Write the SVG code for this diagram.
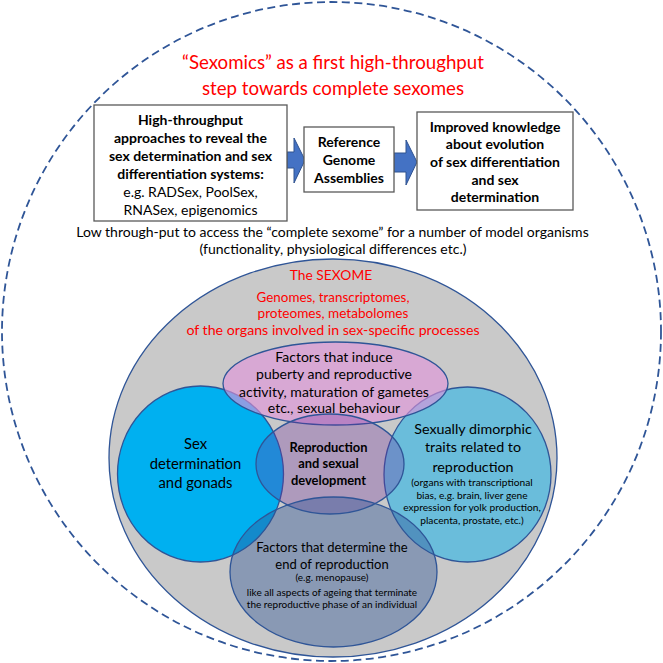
<svg xmlns="http://www.w3.org/2000/svg" width="663" height="663" viewBox="0 0 663 663">
<style>
text{font-family:Lato,"Open Sans","Liberation Sans",sans-serif;text-anchor:middle;fill:#000}
.red{fill:#FF0000}
.b{font-weight:bold}
.box{fill:#fff;stroke:#595959;stroke-width:1.3}
.arr{fill:#4472C4;stroke:#2F528F;stroke-width:1}
.ol{stroke:#2F5597;stroke-width:1.3}
.bx{font-size:14px}
.pk{font-size:14px}
</style>
<rect width="663" height="663" fill="#fff"/>
<circle cx="331.5" cy="331.5" r="329.5" fill="none" stroke="#2F5597" stroke-width="1.8" stroke-dasharray="8,4.5"/>
<g id="title">
<text class="red" x="333" y="68.5" font-size="18.7">“Sexomics” as a first high-throughput</text>
<text class="red" x="333" y="94.5" font-size="18.7">step towards complete sexomes</text>
</g>
<g id="connectors">
<polygon class="arr" points="287,152 294,152 294,138 305,160 294,183 294,168 287,168"/>
<polygon class="arr" points="394,153 406,153 406,140 417,162 406,185 406,172 394,172"/>
</g>
<g id="box1">
<rect class="box" x="94" y="105" width="193" height="116"/>
<text class="b bx" x="190.5" y="125">High-throughput</text>
<text class="b bx" x="190.5" y="143">approaches to reveal the</text>
<text class="b bx" x="190.5" y="161">sex determination and sex</text>
<text class="b bx" x="190.5" y="179">differentiation systems:</text>
<text class="bx" x="190.5" y="197">e.g. RADSex, PoolSex,</text>
<text class="bx" x="190.5" y="215">RNASex, epigenomics</text>
</g>
<g id="box2">
<rect class="box" x="304" y="127" width="90" height="65"/>
<text class="b bx" x="349" y="147">Reference</text>
<text class="b bx" x="349" y="165">Genome</text>
<text class="b bx" x="349" y="183">Assemblies</text>
</g>
<g id="box3">
<rect class="box" x="417" y="112" width="156" height="98"/>
<text class="b bx" x="495" y="132">Improved knowledge</text>
<text class="b bx" x="495" y="149">about evolution</text>
<text class="b bx" x="495" y="167">of sex differentiation</text>
<text class="b bx" x="495" y="185">and sex</text>
<text class="b bx" x="495" y="202">determination</text>
</g>
<g id="lowthroughput">
<text x="332.5" y="237" font-size="14">Low through-put to access the “complete sexome” for a number of model organisms</text>
<text x="333" y="254" font-size="14">(functionality, physiological differences etc.)</text>
</g>
<g id="sexome">
<ellipse class="ol" cx="333" cy="458" rx="224" ry="199" fill="#C9C9C9"/>
<text class="red" x="331" y="280" font-size="13.8">The SEXOME</text>
<text class="red" x="333" y="301.5" font-size="13.4">Genomes, transcriptomes,</text>
<text class="red" x="333" y="318" font-size="13.6">proteomes, metabolomes</text>
<text class="red" x="333" y="335" font-size="14.2">of the organs involved in sex-specific processes</text>
</g>
<g id="sexdetermination">
<ellipse class="ol" cx="200.5" cy="474" rx="83" ry="88" fill="#00B0F0"/>
</g>
<g id="dimorphic">
<ellipse class="ol" cx="467.5" cy="474.5" rx="83.5" ry="87.5" fill="#00B0F0" fill-opacity="0.47"/>
</g>
<g id="puberty">
<ellipse class="ol" cx="335.5" cy="383.5" rx="112.5" ry="41.5" fill="#E293DB" fill-opacity="0.61"/>
</g>
<g id="reproduction">
<ellipse class="ol" cx="330" cy="464" rx="74" ry="50" fill="#7030A0" fill-opacity="0.3"/>
</g>
<g id="endreproduction">
<ellipse class="ol" cx="333.5" cy="572" rx="103.5" ry="75" fill="#2F5597" fill-opacity="0.41"/>
</g>
<g id="labels">
<text class="pk" x="334" y="362">Factors that induce</text>
<text class="pk" x="334" y="379">puberty and reproductive</text>
<text class="pk" x="334" y="396.5">activity, maturation of gametes</text>
<text class="pk" x="334" y="413">etc., sexual behaviour</text>
<text x="195.5" y="449" font-size="14.8">Sex</text>
<text x="195.5" y="468.5" font-size="14.8">determination</text>
<text x="195.5" y="488" font-size="14.8">and gonads</text>
<text class="b" x="328.5" y="451.5" font-size="12.9">Reproduction</text>
<text class="b" x="328.5" y="468" font-size="12.9">and sexual</text>
<text class="b" x="328.5" y="485" font-size="12.9">development</text>
<text x="473" y="433.5" font-size="14.3">Sexually dimorphic</text>
<text x="473" y="452" font-size="14.3">traits related to</text>
<text x="473" y="471.5" font-size="14.3">reproduction</text>
<text x="472" y="486" font-size="10.2">(organs with transcriptional</text>
<text x="472" y="498.5" font-size="10.2">bias, e.g. brain, liver gene</text>
<text x="472" y="511" font-size="10.2">expression for yolk production,</text>
<text x="472" y="523.5" font-size="10.2">placenta, prostate, etc.)</text>
<text x="332" y="551.5" font-size="13">Factors that determine the</text>
<text x="332" y="568.5" font-size="13">end of reproduction</text>
<text x="332" y="581" font-size="10">(e.g. menopause)</text>
<text x="332" y="595.5" font-size="10">like  all aspects of ageing that terminate</text>
<text x="332" y="608" font-size="10">the reproductive phase of an individual</text>
</g>
</svg>
